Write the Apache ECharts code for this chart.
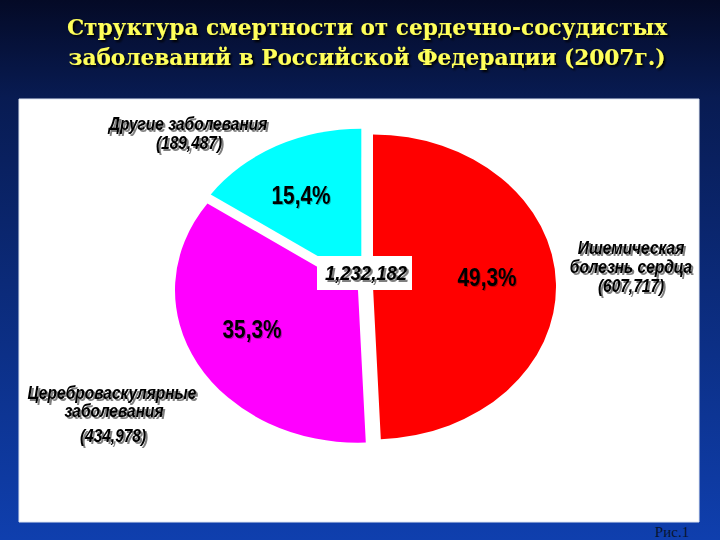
<!DOCTYPE html>
<html>
<head>
<meta charset="utf-8">
<script src="https://cdn.jsdelivr.net/npm/echarts@6/dist/echarts.min.js"></script>
<style>
  html, body { margin: 0; padding: 0; width: 720px; height: 540px; overflow: hidden; }
  .layer { position: absolute; left: 0; top: 0; width: 720px; height: 540px; }
  #pie { transform-origin: 365px 287px; transform: scaleY(0.833); }
</style>
</head>
<body>
<div id="bg" class="layer"></div>
<div id="pie" class="layer"></div>
<div id="top" class="layer"></div>
<script>
// ---- data ----
const titleLines = ['Структура смертности от сердечно-сосудистых', 'заболеваний в Российской Федерации (2007г.)'];
const categories = ['Ишемическая болезнь сердца', 'Цереброваскулярные заболевания', 'Другие заболевания'];
const labelLines = [['Ишемическая', 'болезнь сердца'], ['Цереброваскулярные', 'заболевания'], ['Другие заболевания']];
const values = [607717, 434978, 189487];
const figureCaption = 'Рис.1';

// ---- derived ----
const total = values.reduce((a, b) => a + b, 0);
const fmtInt = v => v.toLocaleString('en-US');
const pct = v => (v / total * 100).toFixed(1).replace('.', ',') + '%';

// ---- styles ----
const sliceColors = ['#ff0000', '#ff00ff', '#00ffff'];
const labelFont = '"Liberation Sans Narrow", "Arial Narrow", "Liberation Sans", sans-serif';
const nameStyle = {
  fontFamily: labelFont, fontWeight: 'bold', fontStyle: 'italic', fontSize: 18,
  fill: '#000', align: 'center', verticalAlign: 'middle',
  textShadowColor: 'rgba(0,0,0,0.5)', textShadowOffsetX: 2, textShadowOffsetY: 2, textShadowBlur: 1
};
const pctStyle = {
  fontFamily: labelFont, fontWeight: 'bold', fontSize: 26,
  fill: '#000', align: 'center', verticalAlign: 'middle',
  textShadowColor: 'rgba(0,0,0,0.3)', textShadowOffsetX: 1, textShadowOffsetY: 1, textShadowBlur: 1
};
const nameScaleX = 0.86;
const pctScaleX = 0.8;
// label anchor positions per category: name lines, value line, percent
const namePos = [
  [[631, 248], [631, 267]],
  [[112, 393], [114, 411]],
  [[188, 124]]
];
const valuePos = [[631, 286], [113, 436], [189, 143]];
const pctPos = [[487, 277], [252, 329], [301, 195]];

// ---- background layer ----
const bg = echarts.init(document.getElementById('bg'), null, { renderer: 'svg' });
bg.setOption({
  animation: false,
  backgroundColor: {
    type: 'linear', x: 0, y: 0, x2: 0, y2: 1,
    colorStops: [
      { offset: 0, color: '#040a26' },
      { offset: 0.18, color: '#081b52' },
      { offset: 1, color: '#0f3fae' }
    ]
  },
  graphic: [
    { type: 'rect', shape: { x: 19, y: 99, width: 680, height: 423 },
      style: { fill: '#ffffff', stroke: '#dfe6f2', lineWidth: 1 } },
    ...titleLines.map((t, i) => ({
      type: 'text', x: 367, y: 27 + i * 30, scaleX: 0.94,
      style: {
        text: t, fontFamily: '"DejaVu Serif", "Liberation Serif", serif', fontWeight: 'bold', fontSize: 23,
        fill: '#ffff5a', align: 'center', verticalAlign: 'middle',
        textShadowColor: '#000000', textShadowOffsetX: 2, textShadowOffsetY: 2, textShadowBlur: 2
      }
    }))
  ]
});

// ---- pie layer (vertically squashed into an ellipse) ----
const pie = echarts.init(document.getElementById('pie'), null, { renderer: 'svg' });
pie.setOption({
  animation: false,
  backgroundColor: 'transparent',
  series: [{
    type: 'pie',
    center: [365, 287],
    radius: [0, 183],
    startAngle: 90,
    clockwise: true,
    selectedMode: 'multiple',
    selectedOffset: 8,
    label: { show: false },
    labelLine: { show: false },
    emphasis: { disabled: true },
    data: categories.map((c, i) => ({
      name: c, value: values[i], selected: true,
      itemStyle: { color: sliceColors[i], borderWidth: 0 }
    }))
  }]
});

// ---- label layer ----
const topChart = echarts.init(document.getElementById('top'), null, { renderer: 'svg' });
const g = [];
labelLines.forEach((lines, i) => {
  lines.forEach((ln, j) => {
    g.push({ type: 'text', x: namePos[i][j][0], y: namePos[i][j][1], scaleX: nameScaleX,
      style: Object.assign({}, nameStyle, { text: ln }) });
  });
  g.push({ type: 'text', x: valuePos[i][0], y: valuePos[i][1], scaleX: nameScaleX,
    style: Object.assign({}, nameStyle, { text: '(' + fmtInt(values[i]) + ')' }) });
  g.push({ type: 'text', x: pctPos[i][0], y: pctPos[i][1], scaleX: pctScaleX,
    style: Object.assign({}, pctStyle, { text: pct(values[i]) }) });
});
g.push({ type: 'rect', shape: { x: 317, y: 256, width: 95, height: 34 }, style: { fill: '#ffffff' } });
g.push({ type: 'text', x: 366, y: 273, scaleX: 0.88,
  style: Object.assign({}, nameStyle, { text: fmtInt(total), fontSize: 21 }) });
g.push({ type: 'text', x: 672, y: 532, style: {
  text: figureCaption, fontFamily: '"Liberation Serif", serif', fontSize: 15,
  fill: '#0a1530', align: 'center', verticalAlign: 'middle'
} });
topChart.setOption({ animation: false, backgroundColor: 'transparent', graphic: g });
</script>
</body>
</html>
